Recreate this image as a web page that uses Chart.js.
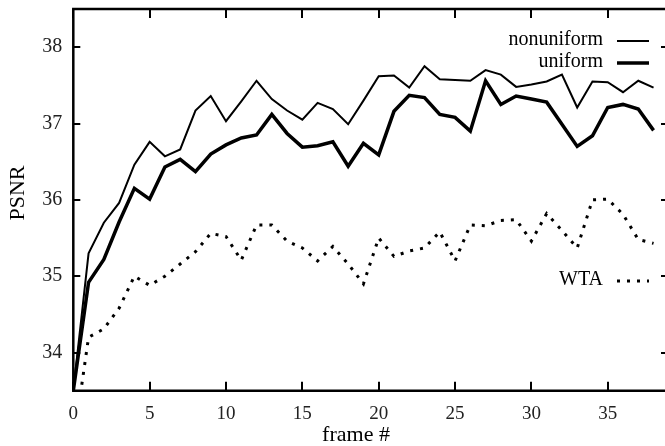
<!DOCTYPE html>
<html>
<head>
  <meta charset="utf-8">
  <title>PSNR per frame</title>
  <script src="https://cdn.jsdelivr.net/npm/chart.js"></script>
  <style>
    html, body { margin: 0; padding: 0; background: #fff; overflow: hidden; }
    #wrap { width: 665px; height: 446px; position: relative; }
  </style>
</head>
<body>
  <div id="wrap"><canvas id="psnrChart"></canvas></div>

  <script>
    // values
    const frames = [0,1,2,3,4,5,6,7,8,9,10,11,12,13,14,15,16,17,18,19,20,21,22,23,24,25,26,27,28,29,30,31,32,33,34,35,36,37,38];
    const nonuniform = [33.5,35.30,35.70,35.96,36.46,36.76,36.57,36.66,37.17,37.36,37.03,37.29,37.56,37.32,37.17,37.05,37.27,37.19,36.99,37.30,
                        37.62,37.63,37.47,37.75,37.58,37.57,37.56,37.70,37.64,37.48,37.51,37.55,37.64,37.21,37.55,37.54,37.41,37.56,37.47];
    const uniform = [33.5,34.92,35.22,35.71,36.15,36.01,36.43,36.53,36.37,36.60,36.72,36.81,36.85,37.12,36.87,36.69,36.71,36.76,36.44,36.74,
                     36.59,37.16,37.37,37.34,37.12,37.08,36.90,37.56,37.25,37.36,37.32,37.28,36.99,36.70,36.84,37.21,37.25,37.19,36.91];
    const wta = [32.8,34.20,34.31,34.58,35.00,34.88,35.00,35.16,35.32,35.56,35.52,35.21,35.67,35.67,35.46,35.37,35.20,35.39,35.16,34.90,
                 35.50,35.26,35.33,35.37,35.58,35.20,35.67,35.66,35.73,35.74,35.46,35.82,35.60,35.37,36.00,36.01,35.81,35.48,35.43];
    const xTickValues = [0,5,10,15,20,25,30,35];
    const yTickValues = [34,35,36,37,38];

    const serif = '"Liberation Serif", "Times New Roman", serif';
    const pts = arr => arr.map((v, i) => ({ x: frames[i], y: v }));

    // gnuplot-style frame: box, inward ticks on all sides, legend, axis titles
    const gnuFrame = {
      id: 'gnuFrame',
      afterDatasetsDraw(chart) {
        const { ctx, chartArea: a, scales: { x, y } } = chart;
        ctx.save();
        ctx.strokeStyle = '#000';
        ctx.lineWidth = 2.5;
        ctx.beginPath();
        ctx.moveTo(a.right + 2, a.top); ctx.lineTo(a.left, a.top);
        ctx.lineTo(a.left, a.bottom); ctx.lineTo(a.right + 2, a.bottom);
        ctx.stroke();

        ctx.lineWidth = 2;
        ctx.beginPath();
        xTickValues.forEach(v => {
          const px = Math.round(x.getPixelForValue(v));
          ctx.moveTo(px, a.bottom); ctx.lineTo(px, a.bottom - 9);
          ctx.moveTo(px, a.top); ctx.lineTo(px, a.top + 9);
        });
        yTickValues.forEach(v => {
          const py = Math.round(y.getPixelForValue(v));
          ctx.moveTo(a.left, py); ctx.lineTo(a.left + 7, py);
          ctx.moveTo(a.right + 4, py); ctx.lineTo(a.right - 4, py);
        });
        ctx.stroke();

        // legend
        ctx.fillStyle = '#000';
        ctx.font = '20px ' + serif;
        ctx.textAlign = 'right';
        ctx.textBaseline = 'middle';
        const legendRows = [
          { ds: 0, ty: 40 },
          { ds: 1, ty: 62 },
          { ds: 2, ty: 280 }
        ];
        legendRows.forEach(r => {
          const d = chart.data.datasets[r.ds];
          ctx.fillText(d.label, 603, r.ty);
          ctx.save();
          ctx.lineWidth = d.borderWidth;
          ctx.setLineDash(d.borderDash || []);
          ctx.lineCap = 'butt';
          ctx.beginPath();
          ctx.moveTo(617, r.ty + 1); ctx.lineTo(649, r.ty + 1);
          ctx.stroke();
          ctx.restore();
        });

        // axis titles
        ctx.font = '22px ' + serif;
        ctx.textAlign = 'center';
        ctx.fillText('frame #', 356, 435);
        ctx.translate(18, 193);
        ctx.rotate(-Math.PI / 2);
        ctx.fillText('PSNR', 0, 0);
        ctx.restore();
      }
    };

    new Chart(document.getElementById('psnrChart'), {
      type: 'line',
      data: {
        datasets: [
          { label: 'nonuniform', data: pts(nonuniform), borderColor: '#000', borderWidth: 2, pointRadius: 0, tension: 0, fill: false },
          { label: 'uniform', data: pts(uniform), borderColor: '#000', borderWidth: 3.5, pointRadius: 0, tension: 0, fill: false },
          { label: 'WTA', data: pts(wta), borderColor: '#000', borderWidth: 3, borderDash: [3, 7], borderCapStyle: 'butt', pointRadius: 0, tension: 0, fill: false }
        ]
      },
      options: {
        responsive: true,
        maintainAspectRatio: false,
        devicePixelRatio: 1,
        animation: false,
        layout: { padding: { top: 9, right: 0, left: 0, bottom: 0 } },
        plugins: { legend: { display: false }, tooltip: { enabled: false } },
        scales: {
          x: {
            type: 'linear',
            min: 0, max: 38.75,
            grid: { display: false, drawTicks: false },
            border: { display: false },
            afterBuildTicks: s => { s.ticks = xTickValues.map(v => ({ value: v })); },
            afterFit: s => { s.height = 55.3; s.paddingLeft = 0; s.paddingRight = 0; },
            ticks: { color: '#222', padding: 12, maxRotation: 0, font: { family: serif, size: 19 } }
          },
          y: {
            min: 33.5, max: 38.5,
            grid: { display: false, drawTicks: false },
            border: { display: false },
            afterBuildTicks: s => { s.ticks = yTickValues.map(v => ({ value: v })); },
            afterFit: s => { s.width = 73.3; s.paddingTop = 0; s.paddingBottom = 0; },
            ticks: { color: '#222', padding: 11, font: { family: serif, size: 20 } }
          }
        }
      },
      plugins: [gnuFrame]
    });
  </script>
</body>
</html>
